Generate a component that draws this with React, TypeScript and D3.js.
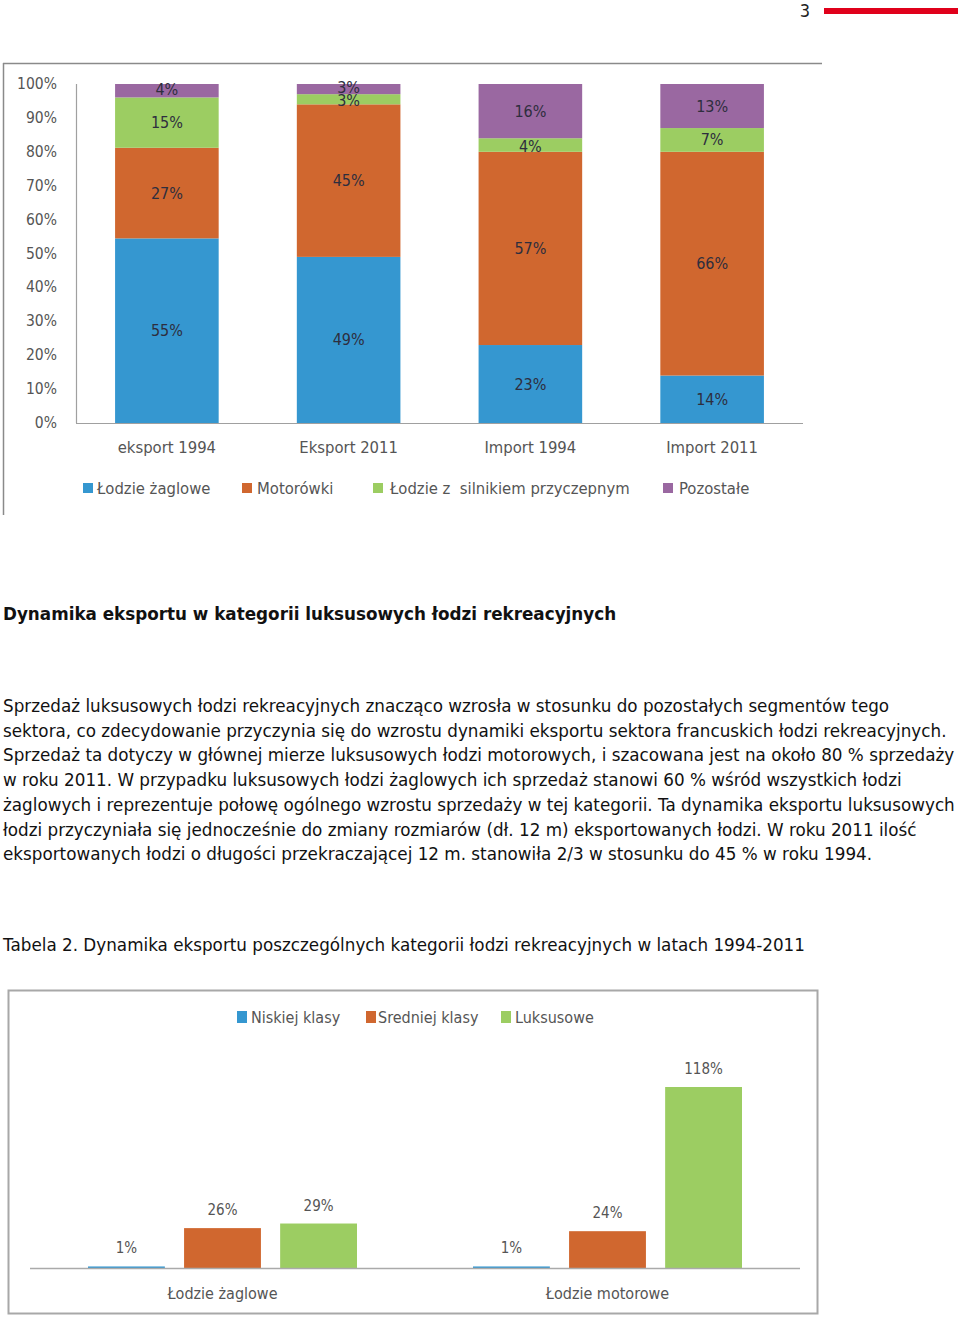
import React from "react";
import * as d3 from "d3";

const categories1 = ["eksport 1994", "Eksport 2011", "Import 1994", "Import 2011"];
const series1 = ["Łodzie żaglowe", "Motorówki", "Łodzie z  silnikiem przyczepnym", "Pozostałe"];
const zaglowe = [55, 49, 23, 14];
const motorowki = [27, 45, 57, 66];
const silnik = [15, 3, 4, 7];
const pozostale = [4, 3, 16, 13];
const yTicks1 = [0, 10, 20, 30, 40, 50, 60, 70, 80, 90, 100];
const colors1 = ["#3597d0", "#d0672f", "#9ccd62", "#9a68a1"];

const groups2 = ["Łodzie żaglowe", "Łodzie motorowe"];
const series2 = ["Niskiej klasy", "Sredniej klasy", "Luksusowe"];
const niskiej = [1, 1];
const sredniej = [26, 24];
const luksusowe = [29, 118];
const colors2 = ["#3597d0", "#d0672f", "#9ccd62"];

const heading = "Dynamika eksportu w kategorii luksusowych łodzi rekreacyjnych";
const paragraph = [
  "Sprzedaż luksusowych łodzi rekreacyjnych znacząco wzrosła w stosunku do pozostałych segmentów tego",
  "sektora, co zdecydowanie przyczynia się do wzrostu dynamiki eksportu sektora francuskich łodzi rekreacyjnych.",
  "Sprzedaż ta dotyczy w głównej mierze luksusowych łodzi motorowych, i szacowana jest na około 80 % sprzedaży",
  "w roku 2011. W przypadku luksusowych łodzi żaglowych ich sprzedaż stanowi 60 % wśród wszystkich łodzi",
  "żaglowych i reprezentuje połowę ogólnego wzrostu sprzedaży w tej kategorii. Ta dynamika eksportu luksusowych",
  "łodzi przyczyniała się jednocześnie do zmiany rozmiarów (dł. 12 m) eksportowanych łodzi. W roku 2011 ilość",
  "eksportowanych łodzi o długości przekraczającej 12 m. stanowiła 2/3 w stosunku do 45 % w roku 1994.",
];
const caption = "Tabela 2. Dynamika eksportu poszczególnych kategorii łodzi rekreacyjnych w latach 1994-2011";

const chartFont = "'Liberation Sans Narrow', 'DejaVu Sans Condensed', sans-serif";
const bodyFont = "'DejaVu Sans', sans-serif";
const bodySize = 16.8;

export default function App() {
  // ---- Chart 1: 100% stacked ----
  const rows1 = categories1.map((c, i) => ({
    cat: c,
    [series1[0]]: zaglowe[i],
    [series1[1]]: motorowki[i],
    [series1[2]]: silnik[i],
    [series1[3]]: pozostale[i],
  }));
  const stack1 = d3.stack<any>().keys(series1).offset(d3.stackOffsetExpand)(rows1);
  const x1 = d3.scaleBand().domain(categories1).range([76, 803]).paddingInner(0.43).paddingOuter(0.215);
  const y1 = d3.scaleLinear().domain([0, 1]).range([423, 84]);

  // ---- Chart 2: grouped ----
  const x2 = d3.scaleBand().domain(groups2).range([30, 800]);
  const x2inner = d3.scaleBand().domain(series2).range([58, 327]).paddingInner(0.2);
  const y2 = d3.scaleLinear().domain([0, 118]).range([1268, 1087]);
  const vals2 = [niskiej, sredniej, luksusowe];

  return (
    <svg width={960} height={1327} style={{ position: "absolute", left: 0, top: 0, background: "#fff" }}>
      {/* page header */}
      <text x={810} y={17} fontFamily={chartFont} fontSize={18} fill="#222" textAnchor="end">3</text>
      <rect x={824} y={8} width={134} height={6} fill="#e0001b" />

      {/* chart 1 frame */}
      <line x1={3} x2={822} y1={63.5} y2={63.5} stroke="#8a8a8a" strokeWidth={1.5} />
      <line x1={3.5} x2={3.5} y1={63} y2={515} stroke="#8a8a8a" strokeWidth={1.5} />

      {/* y axis */}
      <line x1={76.5} x2={76.5} y1={84} y2={423} stroke="#a0a0a0" strokeWidth={1.2} />
      {yTicks1.map((t) => (
        <text key={t} x={57} y={y1(t / 100) + 5} fontFamily={chartFont} fontSize={15.5} fill="#555" textAnchor="end">
          {t}%
        </text>
      ))}

      {/* bars */}
      {stack1.map((s, si) => (
        <g key={s.key}>
          {s.map((d, i) => {
            const x = x1(categories1[i])!;
            const top = y1(d[1]);
            const bot = y1(d[0]);
            return <rect key={i} x={x} y={top} width={x1.bandwidth()} height={bot - top} fill={colors1[si]} />;
          })}
        </g>
      ))}
      {stack1.map((s, si) => (
        <g key={"l" + s.key}>
          {s.map((d, i) => {
            const x = x1(categories1[i])! + x1.bandwidth() / 2;
            const cy = (y1(d[1]) + y1(d[0])) / 2;
            const v = [zaglowe, motorowki, silnik, pozostale][si][i];
            const small = y1(d[0]) - y1(d[1]) < 14;
            const nudge = small ? (si === 3 ? -1.5 : 1.5) : 0;
            return (
              <text key={i} x={x} y={cy + 5.5 + nudge} fontFamily={chartFont} fontSize={16} fill="#2e2e3e" textAnchor="middle">
                {v}%
              </text>
            );
          })}
        </g>
      ))}
      <line x1={76} x2={803} y1={423.5} y2={423.5} stroke="#a0a0a0" strokeWidth={1.2} />

      {categories1.map((c) => (
        <text key={c} x={x1(c)! + x1.bandwidth() / 2} y={453} fontFamily={chartFont} fontSize={16.5} fill="#555" textAnchor="middle">
          {c}
        </text>
      ))}

      {/* legend 1 */}
      {[
        { sx: 83, tx: 97 },
        { sx: 242, tx: 257 },
        { sx: 373, tx: 390 },
        { sx: 663, tx: 679 },
      ].map((p, i) => (
        <g key={i}>
          <rect x={p.sx} y={483} width={10} height={10} fill={colors1[i]} />
          <text x={p.tx} y={494} fontFamily={chartFont} fontSize={16.5} fill="#555" style={{ whiteSpace: "pre" }}>
            {series1[i]}
          </text>
        </g>
      ))}

      {/* text */}
      <text x={3} y={620} fontFamily={bodyFont} fontSize={bodySize} fontWeight="bold" fill="#111">{heading}</text>
      {paragraph.map((l, i) => (
        <text key={i} x={3} y={712 + i * 24.7} fontFamily={bodyFont} fontSize={bodySize} fill="#111">{l}</text>
      ))}
      <text x={3} y={951} fontFamily={bodyFont} fontSize={bodySize} fill="#111">{caption}</text>

      {/* chart 2 frame */}
      <rect x={8.5} y={990.5} width={809} height={323} fill="none" stroke="#a8a8a8" strokeWidth={2} />

      {/* legend 2 */}
      {[
        { sx: 237, tx: 251 },
        { sx: 366, tx: 378 },
        { sx: 501, tx: 515 },
      ].map((p, i) => (
        <g key={i}>
          <rect x={p.sx} y={1011} width={10} height={12} fill={colors2[i]} />
          <text x={p.tx} y={1023} fontFamily={chartFont} fontSize={16} fill="#555">{series2[i]}</text>
        </g>
      ))}

      {/* bars 2 */}
      {groups2.map((g, gi) => (
        <g key={g} transform={`translate(${x2(g)},0)`}>
          {series2.map((s, si) => {
            const v = vals2[si][gi];
            const bx = x2inner(s)!;
            return (
              <g key={s}>
                <rect x={bx} y={y2(v)} width={x2inner.bandwidth()} height={y2(0) - y2(v)} fill={colors2[si]} />
                <text x={bx + x2inner.bandwidth() / 2} y={y2(v) - 13} fontFamily={chartFont} fontSize={15} fill="#555" textAnchor="middle">
                  {v}%
                </text>
              </g>
            );
          })}
          <text x={x2.bandwidth() / 2} y={1299} fontFamily={chartFont} fontSize={16} fill="#555" textAnchor="middle">{g}</text>
        </g>
      ))}
      <line x1={30} x2={800} y1={1268.5} y2={1268.5} stroke="#aaa" strokeWidth={1.5} />
    </svg>
  );
}
